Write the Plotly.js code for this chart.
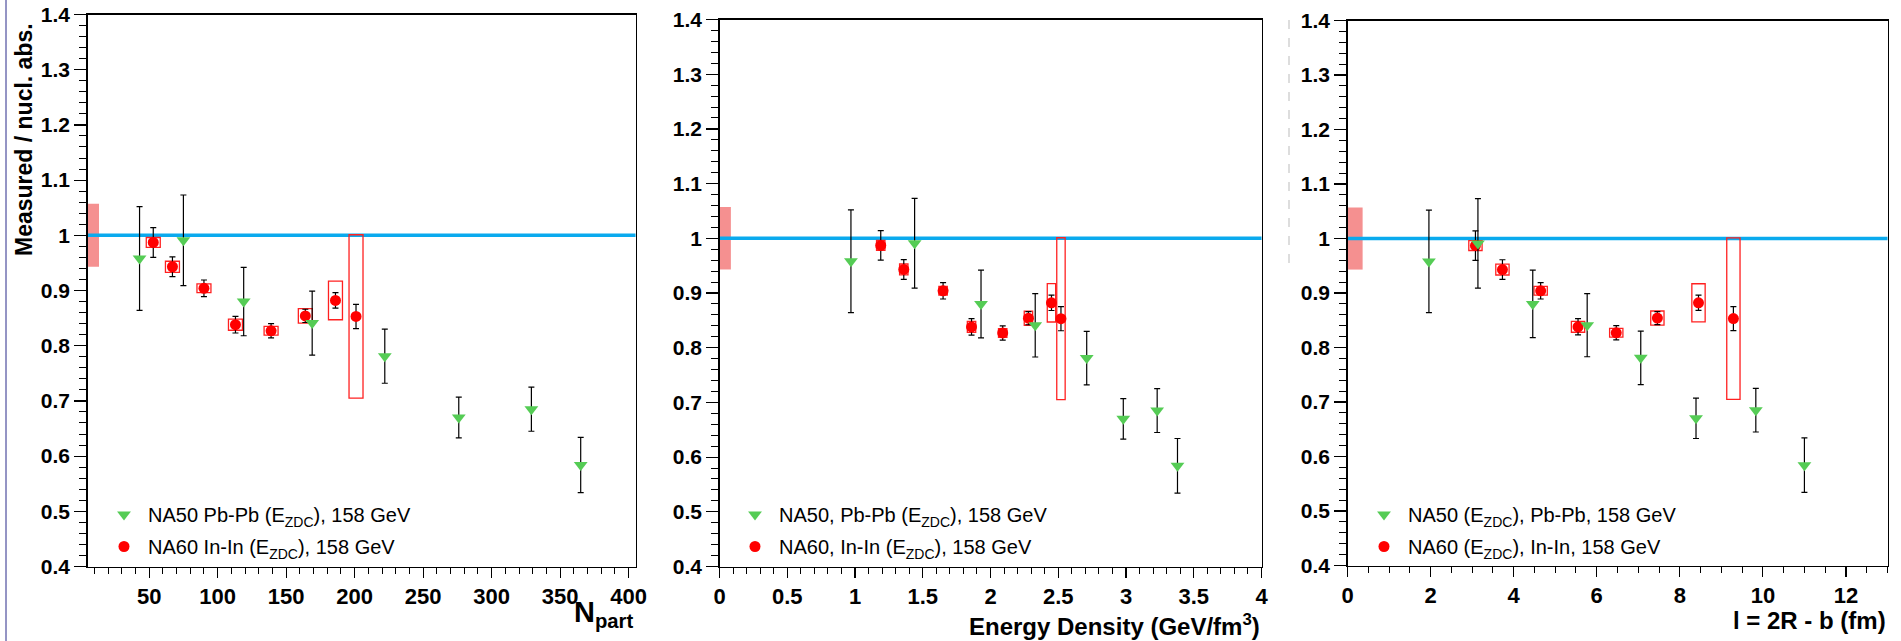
<!DOCTYPE html>
<html><head><meta charset="utf-8">
<script src="https://cdn.plot.ly/plotly-3.0.1.min.js"></script>
<style>html,body{margin:0;padding:0;background:#fff;}#chart{width:1901px;height:641px;}</style>
</head><body><div id="chart"></div>
<script>
// ---------------- data ----------------
// NA50 Pb-Pb (E_ZDC), 158 GeV
const na50Npart = [43, 75, 119, 169, 222, 276, 329, 365];
const na50ED    = [0.97, 1.44, 1.93, 2.33, 2.71, 2.98, 3.23, 3.38];
const na50L     = [1.96, 3.14, 4.46, 5.77, 7.06, 8.39, 9.83, 11.0];
const na50Ratio = [0.958, 0.991, 0.880, 0.841, 0.781, 0.670, 0.685, 0.584];
const na50Err   = [0.094, 0.082, 0.062, 0.058, 0.049, 0.037, 0.040, 0.050];
// NA60 In-In (E_ZDC), 158 GeV
const na60Npart = [53, 67, 90, 113, 139, 164, 186, 201];
const na60ED    = [1.19, 1.36, 1.65, 1.86, 2.09, 2.28, 2.45, 2.52];
const na60L     = [3.08, 3.73, 4.65, 5.55, 6.47, 7.46, 8.45, 9.29];
const na60Ratio = [0.987, 0.943, 0.904, 0.838, 0.827, 0.854, 0.882, 0.853];
const na60Stat  = [0.027, 0.018, 0.015, 0.015, 0.013, 0.012, 0.014, 0.022];
const na60Syst  = [0.009, 0.010, 0.008, 0.010, 0.008, 0.013, 0.035, 0.148];
// global normalisation uncertainty around 1
const globalUnc = 0.057;
const refLevel = 1.0;

// ---------------- layout helpers ----------------
const W = 1901, H = 641;
const px = v => v / W;
const py = v => (H - v) / H;
const FONT = 'Liberation Sans, Arial, Helvetica, sans-serif';

const panels = [
  {xa:'x',  ya:'y',  xd:[87.5,635.5],  yd:[566.5,14.5], range:[5,405], dtick:50, tick0:0, minor:10,
   xs50:na50Npart, xs60:na60Npart, boxHalf:5.1, bandFrac:0.021,
   leg:'legend', legX:100, legY:495,
   names:['NA50 Pb-Pb (E<sub>ZDC</sub>), 158 GeV','NA60 In-In (E<sub>ZDC</sub>), 158 GeV'],
   title:'N<sub>part</sub>', titleY:614},
  {xa:'x2', ya:'y2', xd:[719.5,1261.5], yd:[566.5,19.5], range:[0,4], dtick:0.5, tick0:0, minor:0.1,
   xs50:na50ED, xs60:na60ED, boxHalf:0.031, bandFrac:0.021,
   leg:'legend2', legX:731, legY:495,
   names:['NA50, Pb-Pb (E<sub>ZDC</sub>), 158 GeV','NA60, In-In (E<sub>ZDC</sub>), 158 GeV'],
   title:'Energy Density (GeV/fm<sup>3</sup>)', titleY:625},
  {xa:'x3', ya:'y3', xd:[1347.5,1887.5], yd:[565.5,20.5], range:[0,13], dtick:2, tick0:0, minor:0.5,
   xs50:na50L, xs60:na60L, boxHalf:0.16, bandFrac:0.028,
   leg:'legend3', legX:1360, legY:495,
   names:['NA50 (E<sub>ZDC</sub>), Pb-Pb, 158 GeV','NA60 (E<sub>ZDC</sub>), In-In, 158 GeV'],
   title:'l = 2R - b (fm)', titleY:620}
];

const traces = [];
const shapes = [];
const annotations = [];
const layout = {
  width: W, height: H,
  margin: {l:0, r:0, t:0, b:0},
  paper_bgcolor: '#fff', plot_bgcolor: '#fff',
  font: {family: FONT, color: '#000'},
  showlegend: true
};

panels.forEach((p, i) => {
  const n = i === 0 ? '' : String(i + 1);
  layout['xaxis' + n] = {
    domain: [px(p.xd[0]), px(p.xd[1])], anchor: p.ya, range: p.range,
    tick0: p.tick0, dtick: p.dtick, ticks: 'outside', ticklen: 10, tickwidth: 1.2, tickcolor: '#000',
    minor: {dtick: p.minor, ticks: 'outside', ticklen: 6.5, tickwidth: 1, tickcolor: '#000', showgrid: false},
    showline: true, mirror: true, linecolor: '#000', linewidth: 1.3,
    showgrid: false, zeroline: false,
    tickfont: {family: FONT, size: 22, weight: 'bold', color: '#000'}
  };
  layout['yaxis' + n] = {
    domain: [py(p.yd[0]), py(p.yd[1])], anchor: p.xa, range: [0.4, 1.4],
    tick0: 0.4, dtick: 0.1, ticks: 'outside', ticklen: 12, tickwidth: 1.2, tickcolor: '#000',
    minor: {dtick: 0.02, ticks: 'outside', ticklen: 7, tickwidth: 1, tickcolor: '#000', showgrid: false},
    showline: true, mirror: true, linecolor: '#000', linewidth: 1.3,
    showgrid: false, zeroline: false,
    tickfont: {family: FONT, size: 21, weight: 'bold', color: '#000'}
  };
  shapes.push({type:'rect', xref: p.xa + ' domain', yref: p.ya, x0: 0, x1: p.bandFrac,
    y0: refLevel - globalUnc, y1: refLevel + globalUnc,
    fillcolor: 'rgba(238,70,70,0.6)', line: {width: 0}, layer: 'below'});
  shapes.push({type:'line', xref: p.xa + ' domain', yref: p.ya, x0: 0, x1: 1,
    y0: refLevel, y1: refLevel, line: {color: '#0aaaee', width: 3.5}, layer: 'below'});
  p.xs60.forEach((xv, k) => {
    shapes.push({type:'rect', xref: p.xa, yref: p.ya,
      x0: xv - p.boxHalf, x1: xv + p.boxHalf,
      y0: na60Ratio[k] - na60Syst[k], y1: na60Ratio[k] + na60Syst[k],
      fillcolor: 'rgba(0,0,0,0)', line: {color: '#ff2020', width: 1.3}, layer: 'below'});
  });
  traces.push({type:'scatter', mode:'markers', x: p.xs60, y: na60Ratio,
    xaxis: p.xa, yaxis: p.ya, legend: p.leg, legendrank: 2, legendgroup: 'na60' + n, name: p.names[1],
    marker: {symbol:'circle', size: 11, color:'#ff0000'},
    error_y: {type:'data', array: na60Stat, visible: true, color:'#000', thickness: 1.2, width: 3},
    hoverinfo: 'x+y'});
  traces.push({type:'scatter', mode:'markers', x: p.xs50, y: na50Ratio,
    xaxis: p.xa, yaxis: p.ya, legend: p.leg, legendrank: 1, legendgroup: 'na50' + n, name: p.names[0],
    marker: {symbol:'triangle-down', size: 12, color:'#55cc55'},
    error_y: {type:'data', array: na50Err, visible: true, color:'#000', thickness: 1.2, width: 3},
    hoverinfo: 'x+y'});
  layout[p.leg] = {x: px(p.legX), xanchor: 'left', y: py(p.legY), yanchor: 'top',
    bgcolor: 'rgba(0,0,0,0)', borderwidth: 0, tracegroupgap: 3, itemwidth: 38,
    font: {family: FONT, size: 20, color: '#000'}, itemsizing: 'trace'};
  annotations.push({xref: p.xa + ' domain', yref: 'paper', x: 1, xanchor: 'right',
    y: py(p.titleY), yanchor: 'middle', showarrow: false, text: p.title,
    font: {family: FONT, size: i === 0 ? 29 : 24, weight: 'bold', color: '#000'}});
});

annotations.push({xref:'paper', yref:'paper', x: px(24), y: py(140), xanchor:'center', yanchor:'middle',
  textangle: -90, showarrow: false, text: 'Measured / nucl. abs.',
  font: {family: FONT, size: 23, weight: 'bold', color: '#000'}});

shapes.push({type:'line', xref:'paper', yref:'paper', x0: px(6), x1: px(6), y0: 0, y1: 1,
  line: {color:'#2a2a8a', width: 1}});
shapes.push({type:'line', xref:'paper', yref:'paper', x0: px(1289), x1: px(1289), y0: py(263), y1: py(20),
  line: {color:'#bbbbbb', width: 1, dash:'dash'}});

layout.shapes = shapes;
layout.annotations = annotations;

Plotly.newPlot('chart', traces, layout, {displayModeBar: false, staticPlot: true});
</script>
</body></html>
